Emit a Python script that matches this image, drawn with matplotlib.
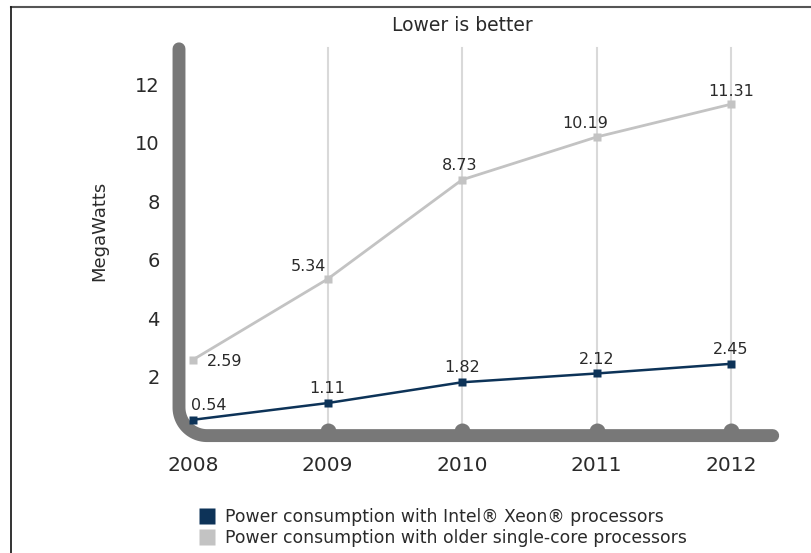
import numpy as np
import matplotlib
matplotlib.use("Agg")
import matplotlib.pyplot as plt
from matplotlib.lines import Line2D

plt.rcParams['font.family'] = ['DejaVu Sans']

years = [2008, 2009, 2010, 2011, 2012]
xeon = [0.54, 1.11, 1.82, 2.12, 2.45]
single_core = [2.59, 5.34, 8.73, 10.19, 11.31]
yticks = [2, 4, 6, 8, 10, 12]
legend_labels = ["Power consumption with Intel\u00ae Xeon\u00ae processors",
                 "Power consumption with older single-core processors"]

NAVY = "#0d3358"
LIGHT = "#c3c3c3"
AXIS = "#787878"
GRID = "#d9d9d9"
TEXT = "#2a2a2a"

W, H = 811, 553
fig = plt.figure(figsize=(W / 100, H / 100), dpi=100)

# axes box in pixels (from left / from top)
px_x0 = 193.0      # where 2008 sits
px_per_year = 134.5
px_y0 = 435.6      # where 0 MW sits
px_per_mw = 29.3
left_px, right_px = 168, 790
top_val = 13.0

ax = fig.add_axes([left_px / W, (H - px_y0) / H,
                   (right_px - left_px) / W, top_val * px_per_mw / H])
ax.set_xlim(2008 - (px_x0 - left_px) / px_per_year,
            2008 + (right_px - px_x0) / px_per_year)
ax.set_ylim(0, top_val)
for s in ax.spines.values():
    s.set_visible(False)

# light vertical grid lines
for yr in years[1:]:
    ax.plot([yr, yr], [0, 13.22], color=GRID, lw=1.5, zorder=1, clip_on=False)

# thick L-shaped axis with a rounded corner
xv = 2008 - 14 / px_per_year
r = 28.0
ang = np.linspace(np.pi, 1.5 * np.pi, 30)
cx = xv + r / px_per_year
cy = r / px_per_mw
arc_x = cx + r * np.cos(ang) / px_per_year
arc_y = cy + r * np.sin(ang) / px_per_mw
path_x = np.concatenate([[xv], arc_x, [2012.31]])
path_y = np.concatenate([[13.2], arc_y, [0]])
ax.plot(path_x, path_y, color=AXIS, lw=9.3, solid_capstyle='round',
        solid_joinstyle='round', zorder=3, clip_on=False)
# bumps where the grid lines meet the base
ax.plot(years[1:], [0.17] * 4, 'o', color=AXIS, ms=11.5, mec='none',
        zorder=3, clip_on=False)

# series
ax.plot(years, single_core, color=LIGHT, lw=2, marker='s', ms=6,
        mec='none', zorder=4, clip_on=False)
ax.plot(years, xeon, color=NAVY, lw=1.8, marker='s', ms=6,
        mec='none', zorder=5, clip_on=False)

lab_kw = dict(fontsize=11.5, color=TEXT, zorder=6)
# value labels: (dx, dy, ha, va), offsets in points
sc_off = [(10, -1, 'left', 'center'), (-1, 4, 'right', 'bottom'),
          (-2, 5, 'center', 'bottom'), (-8, 4, 'center', 'bottom'),
          (0, 4, 'center', 'bottom')]
for x, v, (dx, dy, ha, va) in zip(years, single_core, sc_off):
    ax.annotate(f"{v:.2f}", (x, v), xytext=(dx, dy), textcoords='offset points',
                ha=ha, va=va, **lab_kw)
xe_off = [(11, 5), (0, 5), (0, 5), (0, 5), (0, 5)]
for x, v, (dx, dy) in zip(years, xeon, xe_off):
    ax.annotate(f"{v:.2f}", (x, v), xytext=(dx, dy), textcoords='offset points',
                ha='center', va='bottom', **lab_kw)

# ticks
ax.set_xticks(years)
ax.set_xticklabels([str(y) for y in years], fontsize=14.5, color=TEXT)
ax.set_yticks(yticks)
ax.set_yticklabels([str(t) for t in yticks], fontsize=14, color=TEXT)
ax.tick_params(axis='both', length=0)
ax.tick_params(axis='x', pad=15)
ax.tick_params(axis='y', pad=6)
ax.set_ylabel("MegaWatts", fontsize=13, color=TEXT)
ax.yaxis.set_label_coords(-(168 - 108) / (right_px - left_px), (435.6 - 231) / (13 * 29.3))

ax.text(2010, 14.0, "Lower is better", ha='center', va='center',
        fontsize=13.5, color=TEXT, clip_on=False)

# legend
handles = [Line2D([], [], ls='none', marker='s', ms=11, color=NAVY, mec='none'),
           Line2D([], [], ls='none', marker='s', ms=11, color=LIGHT, mec='none')]
fig.legend(handles, legend_labels, loc='upper left',
           bbox_to_anchor=(191 / W, 1 - 499 / H), frameon=False,
           fontsize=12.4, handlelength=0.9, handletextpad=0.55,
           labelspacing=0.22, borderpad=0, labelcolor=TEXT)

# page frame lines
fig.add_artist(Line2D([11 / W, 1], [1 - 7 / H, 1 - 7 / H], color="#555555", lw=1.5))
fig.add_artist(Line2D([11 / W, 11 / W], [0, 1 - 7 / H], color="#111111", lw=1.2))

fig.savefig("out.png", dpi=100)
